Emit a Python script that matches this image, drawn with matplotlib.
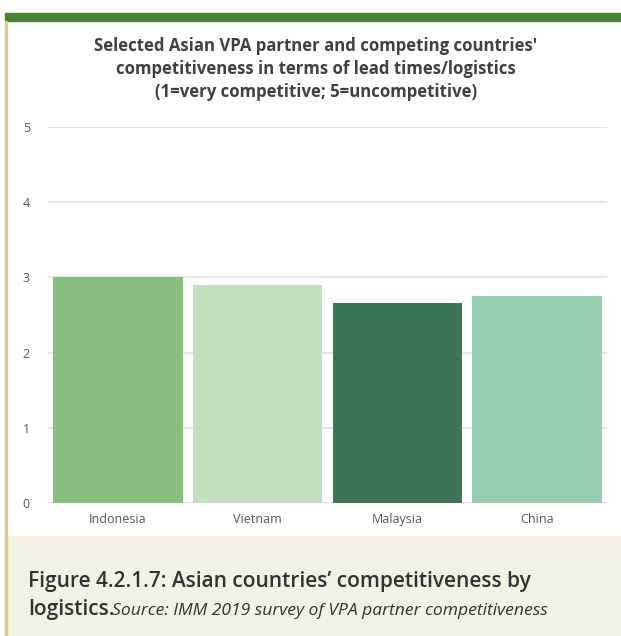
import matplotlib
matplotlib.use("Agg")
import matplotlib.pyplot as plt
from matplotlib.patches import Rectangle

categories = ["Indonesia", "Vietnam", "Malaysia", "China"]
values = [3.0, 2.9, 2.66, 2.75]
colors = ["#88BF7F", "#C2DFC2", "#3A7556", "#98CDAF"]
yticks = [0, 1, 2, 3, 4, 5]

title_lines = ["Selected Asian VPA partner and competing countries'",
               "competitiveness in terms of lead times/logistics",
               "(1=very competitive; 5=uncompetitive)"]

W, H = 621, 636
fig = plt.figure(figsize=(W / 100, H / 100), dpi=100)
fig.patch.set_facecolor("white")

def px(x0, y0, w, h):
    return (x0 / W, 1 - (y0 + h) / H, w / W, h / H)

# decorations
fig.patches.append(Rectangle((5 / W, 1 - 21 / H), (W - 5) / W, 8 / H,
                             transform=fig.transFigure, color="#4A8233", zorder=0))
fig.patches.append(Rectangle((5 / W, 1 - 636 / H), (W - 5) / W, 100 / H,
                             transform=fig.transFigure, color="#F4F0E4", zorder=0))
fig.patches.append(Rectangle((5 / W, 1 - 636 / H), 1.5 / W, 615 / H,
                             transform=fig.transFigure, color="#D8CD8F", zorder=1))

ax = fig.add_axes(px(48, 127, 559, 376))
x = range(len(categories))
ax.bar(x, values, width=0.925, color=colors, zorder=3)
ax.set_xlim(-0.5, len(categories) - 0.5)
ax.set_ylim(0, 5)
ax.set_yticks(yticks)
ax.set_xticks(list(x))
ax.set_xticklabels(categories)
ax.yaxis.grid(True, color="#E0E0E0", linewidth=1.2, zorder=0)
for s in ax.spines.values():
    s.set_visible(False)
ax.tick_params(axis="both", length=0, labelsize=9, colors="#555555")
ax.tick_params(axis="y", pad=13)
ax.tick_params(axis="x", pad=7)
for lab in ax.get_xticklabels() + ax.get_yticklabels():
    lab.set_fontfamily("Open Sans")
ax.set_facecolor("none")

for i, line in enumerate(title_lines):
    fig.text(316 / W, 1 - (51 + 23 * i) / H, line, ha="center", va="baseline",
             fontsize=12.1, fontweight="bold", color="#404040", family="Open Sans")

fig.text(28 / W, 1 - 587 / H, "Figure 4.2.1.7: Asian countries\u2019 competitiveness by",
         ha="left", va="baseline", fontsize=15, fontweight="semibold",
         color="#333333", family="Open Sans")
fig.text(28 / W, 1 - 615 / H, "logistics.", ha="left", va="baseline",
         fontsize=15, fontweight="semibold", color="#333333", family="Open Sans")
fig.text(112 / W, 1 - 615 / H, "Source: IMM 2019 survey of VPA partner competitiveness",
         ha="left", va="baseline", fontsize=12.6, style="italic",
         color="#333333", family="Open Sans")

fig.savefig("out.png", dpi=100)
